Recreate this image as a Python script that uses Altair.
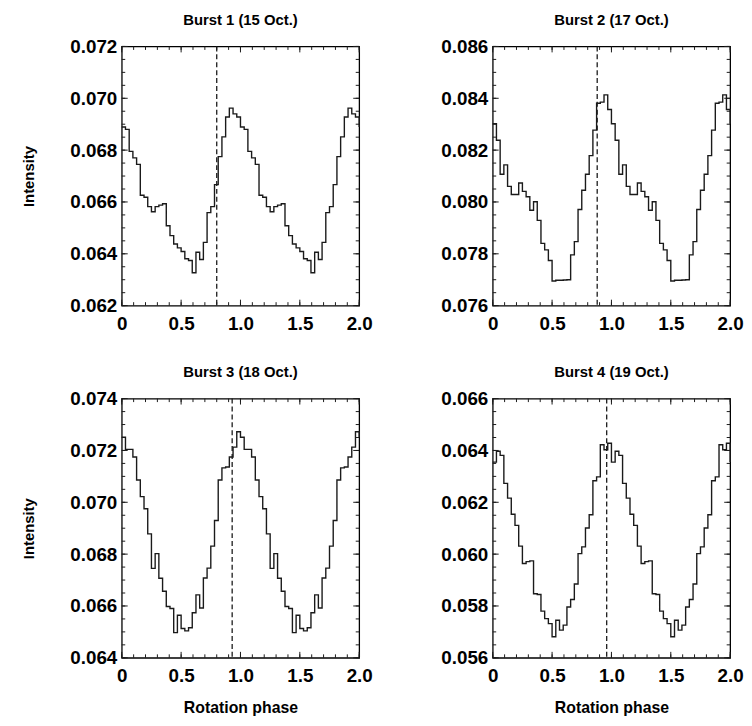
import altair as alt
import pandas as pd

# ---------------- data ----------------
titles = ["Burst 1 (15 Oct.)", "Burst 2 (17 Oct.)", "Burst 3 (18 Oct.)", "Burst 4 (19 Oct.)"]

# one rotation cycle, 32 phase bins; the figure shows it twice (phase 0-2)
burst1 = [0.06889, 0.06880, 0.06795, 0.06770, 0.06745, 0.06626, 0.06618, 0.06582,
          0.06562, 0.06582, 0.06588, 0.06593, 0.06508, 0.06470, 0.06438, 0.06423,
          0.06409, 0.06381, 0.06374, 0.06327, 0.06406, 0.06378, 0.06444, 0.06559,
          0.06582, 0.06667, 0.06775, 0.06851, 0.06928, 0.06962, 0.06940, 0.06928]
burst2 = [0.08302, 0.08238, 0.08107, 0.08143, 0.08060, 0.08029, 0.08029, 0.08073,
          0.08041, 0.08020, 0.07968, 0.08001, 0.07929, 0.07840, 0.07815, 0.07774,
          0.07695, 0.07698, 0.07698, 0.07699, 0.07700, 0.07796, 0.07847, 0.07971,
          0.08045, 0.08107, 0.08179, 0.08277, 0.08381, 0.08385, 0.08413, 0.08357]
burst3 = [0.07251, 0.07204, 0.07204, 0.07175, 0.07086, 0.07022, 0.06975, 0.06878,
          0.06745, 0.06802, 0.06707, 0.06657, 0.06598, 0.06590, 0.06497, 0.06564,
          0.06513, 0.06504, 0.06516, 0.06574, 0.06643, 0.06592, 0.06708, 0.06746,
          0.06831, 0.06930, 0.07086, 0.07133, 0.07136, 0.07175, 0.07213, 0.07272]
burst4 = [0.06355, 0.06397, 0.06381, 0.06273, 0.06216, 0.06154, 0.06111, 0.06031,
          0.05964, 0.05971, 0.05974, 0.05847, 0.05844, 0.05780, 0.05751, 0.05732,
          0.05681, 0.05745, 0.05707, 0.05726, 0.05796, 0.05825, 0.05885, 0.06002,
          0.06028, 0.06101, 0.06152, 0.06283, 0.06298, 0.06422, 0.06403, 0.06428]
burst_values = [burst1, burst2, burst3, burst4]

marker_phase = [0.80, 0.88, 0.93, 0.96]
y_ranges = [(0.062, 0.072), (0.076, 0.086), (0.064, 0.074), (0.056, 0.066)]
x_major = [0.0, 0.5, 1.0, 1.5, 2.0]
x_minor = [round(i * 0.1, 1) for i in range(21)]

# ---------------- styling ----------------
W, H = 240, 262
FONT = "Liberation Sans"
MAJ, MIN = 6, 3.5
INK = "#1a1a1a"
LABEL_SIZE = 19


def make_panel(idx, show_ytitle, show_xtitle):
    vals = burst_values[idx]
    n = len(vals)
    phase = [c + k / n for c in (0, 1) for k in range(n)] + [2.0]
    inten = vals + vals + [vals[0]]
    df = pd.DataFrame({"phase": phase, "intensity": inten})

    lo, hi = y_ranges[idx]
    y_major = [round(lo + 0.002 * i, 4) for i in range(6)]
    y_minor = [round(lo + 0.0005 * i, 5) for i in range(21)]

    xs = alt.Scale(domain=[0, 2], nice=False, zero=False)
    ys = alt.Scale(domain=[lo, hi], nice=False, zero=False)

    xaxis = alt.Axis(
        values=x_major,
        labelExpr="datum.value == 0 ? '0' : format(datum.value, '.1f')",
        ticks=False, tickSize=0, domain=False, grid=False, labelFlush=False,
        labelPadding=9, labelFont=FONT, labelFontSize=LABEL_SIZE, labelFontWeight="bold",
        labelColor="black",
        title="Rotation phase" if show_xtitle else None,
        titleFont=FONT, titleFontSize=16, titleFontWeight="bold", titleColor="black",
        titlePadding=14,
    )
    yaxis = alt.Axis(
        values=y_major, format=".3f",
        ticks=False, tickSize=0, domain=False, grid=False, labelFlush=False,
        labelPadding=5, labelFont=FONT, labelFontSize=LABEL_SIZE, labelFontWeight="bold",
        labelColor="black", minExtent=55, maxExtent=55,
        title="Intensity" if show_ytitle else None,
        titleFont=FONT, titleFontSize=15, titleFontWeight="bold", titleColor="black",
        titlePadding=31,
    )

    line = alt.Chart(df).mark_line(
        interpolate="step-after", color=INK, strokeWidth=1.4
    ).encode(
        x=alt.X("phase:Q", scale=xs, axis=xaxis),
        y=alt.Y("intensity:Q", scale=ys, axis=yaxis),
    )

    dash = alt.Chart(pd.DataFrame({"p": [marker_phase[idx]]})).mark_rule(
        color=INK, strokeDash=[5, 3], strokeWidth=1.3
    ).encode(x=alt.X("p:Q", scale=xs, axis=xaxis))

    ymaj = pd.DataFrame({"t": y_major})
    ymin = pd.DataFrame({"t": y_minor})
    xmaj = pd.DataFrame({"t": x_major})
    xmin = pd.DataFrame({"t": x_minor})

    def yt(d, x1, x2):
        return alt.Chart(d).mark_rule(color=INK, strokeWidth=1).encode(
            y=alt.Y("t:Q", scale=ys, axis=yaxis), x=alt.value(x1), x2=alt.value(x2))

    def xt(d, y1, y2):
        return alt.Chart(d).mark_rule(color=INK, strokeWidth=1).encode(
            x=alt.X("t:Q", scale=xs, axis=xaxis), y=alt.value(y1), y2=alt.value(y2))

    ticks = [
        yt(ymaj, 0, MAJ), yt(ymin, 0, MIN), yt(ymaj, W - MAJ, W), yt(ymin, W - MIN, W),
        xt(xmaj, 0, MAJ), xt(xmin, 0, MIN), xt(xmaj, H - MAJ, H), xt(xmin, H - MIN, H),
    ]

    return alt.layer(line, dash, *ticks).properties(
        width=W, height=H,
        title=alt.TitleParams(
            titles[idx], font=FONT, fontSize=15, fontWeight="bold", color="black",
            offset=10, anchor="middle", frame="group",
        ),
    )


p0 = make_panel(0, True, False)
p1 = make_panel(1, False, False)
p2 = make_panel(2, True, True)
p3 = make_panel(3, False, True)

top = alt.hconcat(p0, p1, spacing=65)
bottom = alt.hconcat(p2, p3, spacing=65)

chart = alt.vconcat(top, bottom, spacing=30).properties(
    padding={"left": 13, "top": 0, "right": 0, "bottom": 0},
    background="white",
).configure_view(stroke="black", strokeWidth=1.3)

chart.save("out.html", embed_options={"renderer": "svg", "actions": False})
